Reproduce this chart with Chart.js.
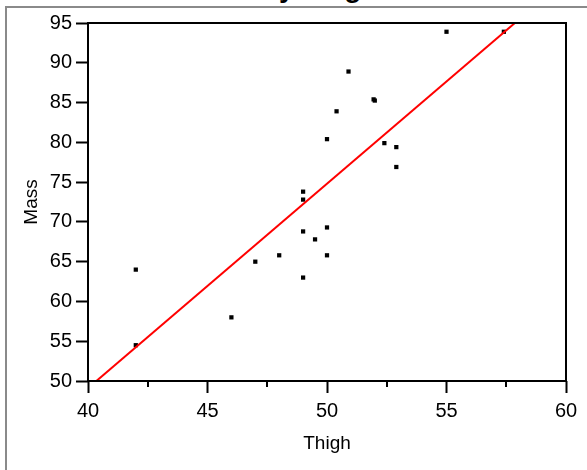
<!DOCTYPE html>
<html>
<head>
<meta charset="utf-8">
<script src="https://cdn.jsdelivr.net/npm/chart.js@4/dist/chart.umd.min.js"></script>
<style>
  html, body { margin: 0; padding: 0; background: #fff; }
  #wrap { position: relative; width: 587px; height: 470px; overflow: hidden; }
  /* moldura cinza do relatório (só esquerda e topo aparecem) */
  #frame {
    position: absolute; left: 5px; top: 6px; width: 700px; height: 600px;
    border-left: 2px solid #8a8a8a; border-top: 2px solid #8a8a8a;
  }
  /* título cortado: só as descendentes ficam visíveis */
  #titulo {
    position: absolute; left: 184px; top: -26px; white-space: nowrap;
    font: bold 28px "Liberation Sans", Arial, sans-serif; line-height: 28px; color: #000;
  }
  canvas { position: absolute; left: 0; top: 0; }
</style>
</head>
<body>
<div id="wrap">
  <div id="titulo">Mass by Thigh</div>
  <div id="frame"></div>
  <canvas id="grafico" width="587" height="470"></canvas>
</div>
<script>
// Dados
const thigh = [42, 42, 46, 47, 48, 49, 49, 49, 49, 49.5, 50, 50,
               55, 57.4, 50.9, 51.95, 52, 50.4, 50, 52.4, 52.9, 52.9];
const mass  = [64, 54.5, 58, 65, 65.8, 73.8, 72.8, 68.8, 63, 67.8, 69.3, 65.8,
               93.9, 93.9, 88.9, 85.4, 85.25, 83.9, 80.4, 79.9, 79.4, 76.9];

// Reta ajustada (extremos)
const fitThigh = [40, 60];
const fitMass  = [49.1, 100.5];

const xTicks = [40, 45, 50, 55, 60];
const xMinorTicks = [42.5, 47.5, 52.5, 57.5];
const yTicks = [50, 55, 60, 65, 70, 75, 80, 85, 90, 95];

const FONTE = '"Liberation Sans", Arial, sans-serif';

const pontos = thigh.map((x, i) => ({ x, y: mass[i] }));
const reta = fitThigh.map((x, i) => ({ x, y: fitMass[i] }));

/** Caixa preta em volta da área de plotagem + ticks menores do eixo x. */
const molduraPlot = {
  id: "molduraPlot",
  afterDraw(chart) {
    const { ctx, chartArea: a, scales } = chart;
    ctx.save();
    ctx.strokeStyle = "#000";
    ctx.lineWidth = 2;
    ctx.strokeRect(a.left, a.top, a.right - a.left, a.bottom - a.top);
    ctx.beginPath();
    xMinorTicks.forEach(v => {
      const px = Math.round(scales.x.getPixelForValue(v));
      ctx.moveTo(px, a.bottom);
      ctx.lineTo(px, a.bottom + 6);
    });
    ctx.stroke();
    ctx.restore();
  },
};

new Chart(document.getElementById("grafico"), {
  type: "scatter",
  data: {
    datasets: [
      {
        data: pontos,
        pointStyle: "rect",
        pointRadius: 3,
        pointBackgroundColor: "#000",
        pointBorderColor: "#000",
        pointBorderWidth: 0,
        order: 2,
      },
      {
        type: "line",
        data: reta,
        borderColor: "#ff0000",
        borderWidth: 2,
        pointRadius: 0,
        fill: false,
        order: 1,
      },
    ],
  },
  options: {
    responsive: false,
    animation: false,
    events: [],
    layout: { padding: { top: 23, right: 21, left: 0, bottom: 0 } },
    plugins: { legend: { display: false }, tooltip: { enabled: false } },
    scales: {
      x: {
        type: "linear",
        min: 40, max: 60,
        afterBuildTicks: s => { s.ticks = xTicks.map(v => ({ value: v })); },
        afterFit: s => { s.height = 89; s.paddingLeft = 0; s.paddingRight = 0; },
        ticks: { color: "#000", font: { family: FONTE, size: 20 }, padding: 6, maxRotation: 0 },
        grid: { drawOnChartArea: false, tickLength: 12, tickWidth: 2, tickColor: "#000" },
        border: { display: false },
        title: {
          display: true, text: "Thigh", color: "#000",
          font: { family: FONTE, size: 19 }, padding: { top: 0, bottom: 15 },
        },
      },
      y: {
        type: "linear",
        min: 50, max: 95,
        afterBuildTicks: s => { s.ticks = yTicks.map(v => ({ value: v })); },
        afterFit: s => { s.width = 88; s.paddingTop = 0; s.paddingBottom = 0; },
        ticks: { color: "#000", font: { family: FONTE, size: 20 }, padding: 4 },
        grid: { drawOnChartArea: false, tickLength: 12, tickWidth: 2, tickColor: "#000" },
        border: { display: false },
        title: {
          display: true, text: "Mass", color: "#000",
          font: { family: FONTE, size: 19 }, padding: { top: 20, bottom: 0 },
        },
      },
    },
  },
  plugins: [molduraPlot],
});
</script>
</body>
</html>
